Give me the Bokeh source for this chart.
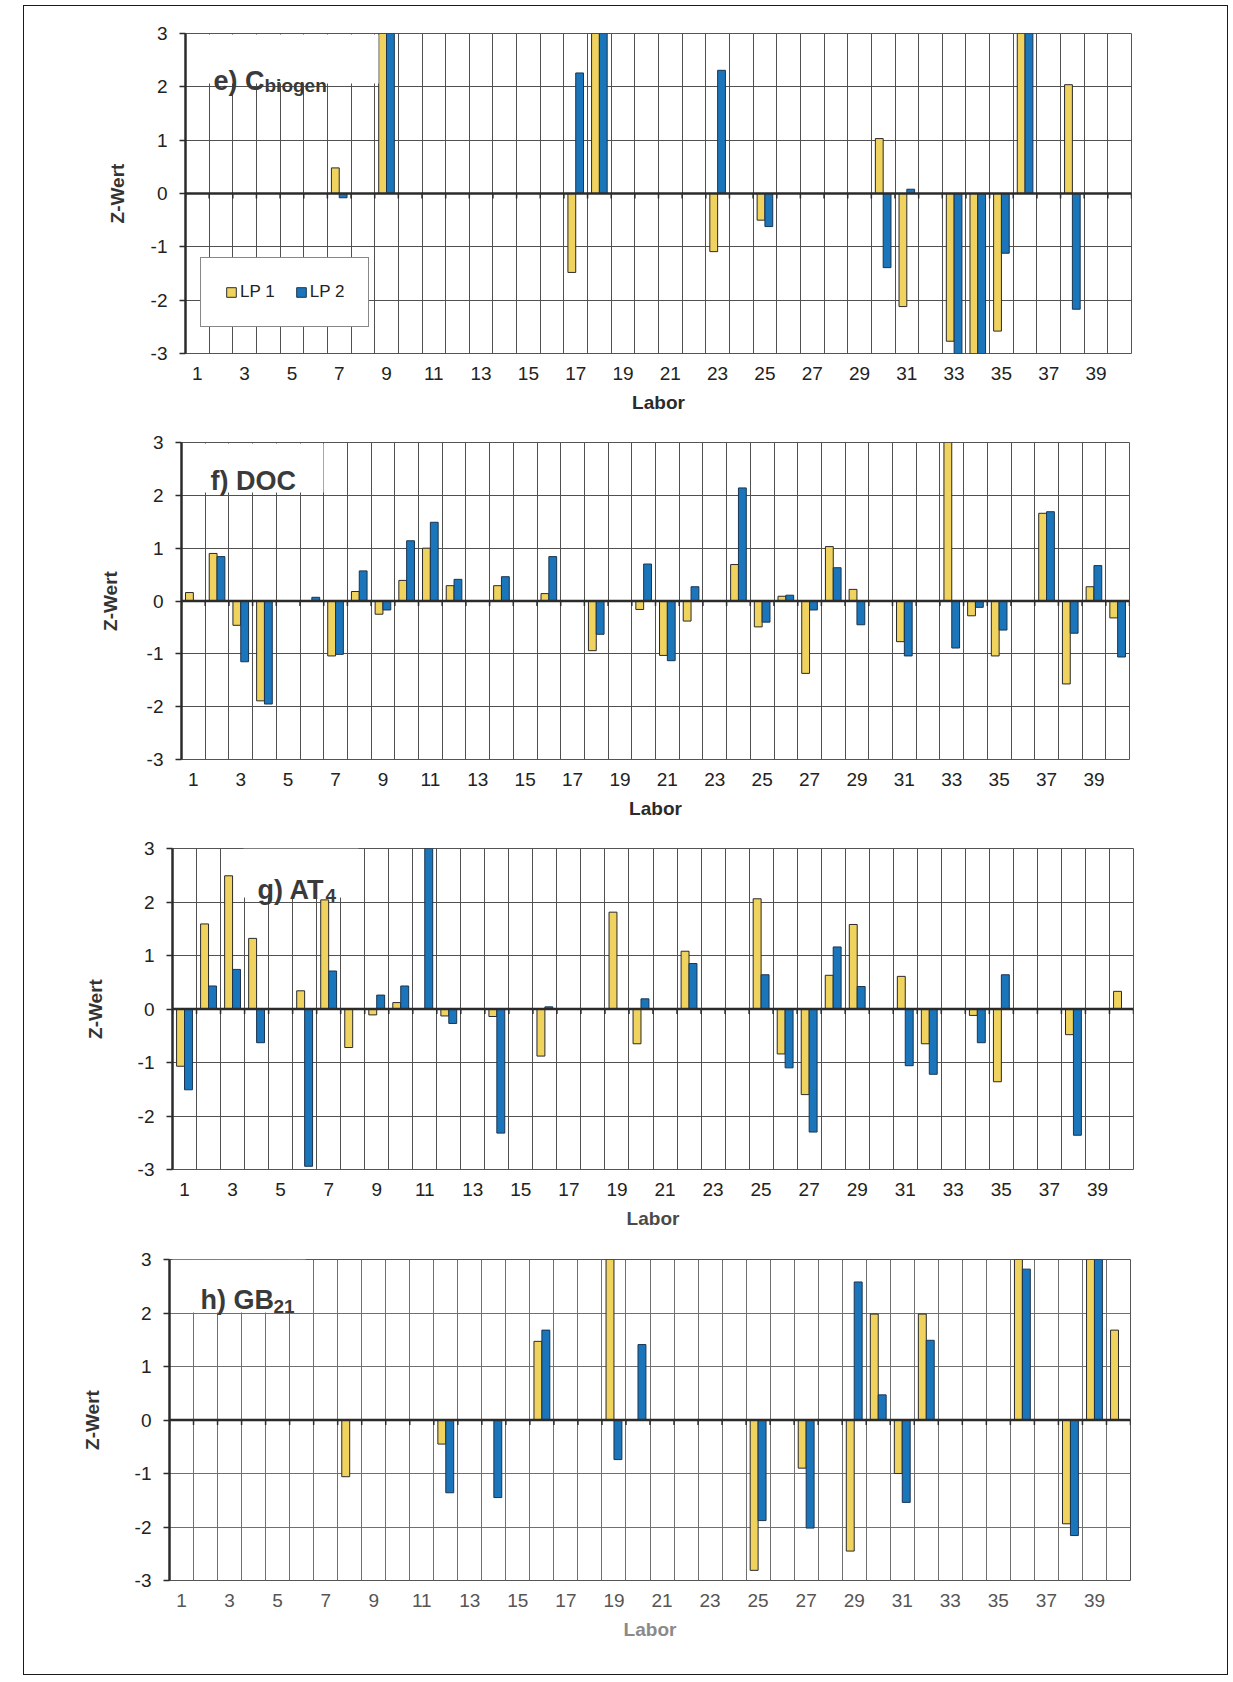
from bokeh.plotting import figure
from bokeh.models import (Range1d, FixedTicker, Span, Label, BoxAnnotation,
                          Legend, LegendItem, ColumnDataSource,
                          PrintfTickFormatter)
from bokeh.layouts import column, row
from bokeh.transform import dodge
from bokeh.embed import file_html
from bokeh.resources import INLINE

N = float("nan")

# ---------------- data ----------------
labs = list(range(1, 41))
x_tick_labels = list(range(1, 40, 2))
y_ticks = [-3, -2, -1, 0, 1, 2, 3]
series_names = ["LP 1", "LP 2"]

e_lp1 = [N, N, N, N, N, N, 0.48, N, 3.0, N,
         N, N, N, N, N, N, -1.48, 3.0, N, N,
         N, N, -1.09, N, -0.50, N, N, N, N, 1.03,
         -2.12, N, -2.77, -3.0, -2.58, 3.0, N, 2.04, N, N]
e_lp2 = [N, N, N, N, N, N, -0.08, N, 3.0, N,
         N, N, N, N, N, N, 2.26, 3.0, N, N,
         N, N, 2.31, N, -0.62, N, N, N, N, -1.39,
         0.08, N, -3.0, -3.0, -1.12, 3.0, N, -2.17, N, N]

f_lp1 = [0.16, 0.90, -0.46, -1.89, N, N, -1.04, 0.18, -0.25, 0.39,
         1.00, 0.29, N, 0.29, N, 0.14, N, -0.94, N, -0.16,
         -1.03, -0.38, N, 0.69, -0.49, 0.09, -1.37, 1.03, 0.22, N,
         -0.77, N, 3.0, -0.28, -1.04, N, 1.66, -1.57, 0.27, -0.32]
f_lp2 = [N, 0.84, -1.15, -1.95, N, 0.07, -1.01, 0.57, -0.17, 1.14,
         1.49, 0.41, N, 0.46, N, 0.84, N, -0.63, N, 0.70,
         -1.13, 0.27, N, 2.14, -0.40, 0.11, -0.17, 0.63, -0.45, N,
         -1.04, N, -0.89, -0.12, -0.55, N, 1.69, -0.61, 0.67, -1.06]

g_lp1 = [-1.07, 1.59, 2.49, 1.32, N, 0.34, 2.04, -0.72, -0.11, 0.12,
         N, -0.13, N, -0.14, N, -0.88, N, N, 1.81, -0.65,
         N, 1.08, N, N, 2.06, -0.84, -1.60, 0.63, 1.58, N,
         0.61, -0.65, N, -0.12, -1.36, N, N, -0.48, N, 0.33]
g_lp2 = [-1.51, 0.43, 0.74, -0.63, N, -2.94, 0.71, N, 0.26, 0.43,
         3.0, -0.27, N, -2.32, N, 0.04, N, N, N, 0.19,
         N, 0.85, N, N, 0.64, -1.10, -2.30, 1.16, 0.42, N,
         -1.06, -1.22, N, -0.63, 0.64, N, N, -2.36, N, N]

h_lp1 = [N, N, N, N, N, N, N, -1.06, N, N,
         N, -0.45, N, N, N, 1.47, N, N, 3.0, N,
         N, N, N, N, -2.81, N, -0.90, N, -2.45, 1.98,
         -1.00, 1.98, N, N, N, 3.0, N, -1.94, 3.0, 1.68]
h_lp2 = [N, N, N, N, N, N, N, N, N, N,
         N, -1.36, N, -1.45, N, 1.68, N, N, -0.74, 1.41,
         N, N, N, N, -1.88, N, -2.02, N, 2.58, 0.47,
         -1.54, 1.49, N, N, N, 2.82, N, -2.16, 3.0, N]

# ---------------- style ----------------
FONT = "Liberation Sans"
YELLOW = "#F0D25E"
BLUE = "#1B75BA"
GRID = "#505050"
AXIS = "#2b2b2b"
FIG_W = 1203

panels = [
    dict(lp1=e_lp1, lp2=e_lp2, title="e) C", sub="biogen",
         h=414, bl=161, br=96, bt=27, bb=67,
         tpos=(28, 47), sub_dx=51, sub_base=52, box=(5, 193, 1, 50),
         ystand=20, legend=True, xcol="#222222", labcol="#2b2b2b",
         gcol=GRID),
    dict(lp1=f_lp1, lp2=f_lp2, title="f) DOC", sub="",
         h=406, bl=157, br=98, bt=22, bb=67,
         tpos=(29, 38), sub_dx=0, sub_base=38, box=(2, 142, 1, 50),
         ystand=23, legend=False, xcol="#222222", labcol="#2b2b2b",
         gcol=GRID),
    dict(lp1=g_lp1, lp2=g_lp2, title="g) AT", sub="4",
         h=411, bl=148, br=94, bt=22, bb=68,
         tpos=(85, 41), sub_dx=68, sub_base=47, box=(71, 186, 0, 49),
         ystand=29, legend=False, xcol="#222222", labcol="#4a4a4a",
         gcol=GRID),
    dict(lp1=h_lp1, lp2=h_lp2, title="h) GB", sub="21",
         h=437, bl=145, br=97, bt=22, bb=94,
         tpos=(31, 40), sub_dx=73, sub_base=47, box=(3, 136, 0, 53),
         ystand=29, legend=False, xcol="#555555", labcol="#8a8a8a",
         gcol="#707070"),
]

bounds = [i + 0.5 for i in range(0, 41)]
figs = []
for pc in panels:
    W = FIG_W - pc["bl"] - pc["br"]
    H = pc["h"] - pc["bt"] - pc["bb"]

    def dx(px, W=W):
        return 0.5 + px * 40.0 / W

    def dy(py, H=H):
        return 3.0 - py * 6.0 / H

    p = figure(width=FIG_W, height=pc["h"], output_backend="svg",
               toolbar_location=None, x_range=Range1d(0.5, 40.5),
               y_range=Range1d(-3, 3), min_border_left=pc["bl"],
               min_border_right=pc["br"], min_border_top=pc["bt"],
               min_border_bottom=pc["bb"])
    p.background_fill_color = "white"
    p.border_fill_color = "white"
    p.outline_line_color = "#555555"
    p.outline_line_width = 1

    # grids
    p.xgrid.ticker = FixedTicker(ticks=bounds)
    p.ygrid.ticker = FixedTicker(ticks=y_ticks)
    for g in (p.xgrid, p.ygrid):
        g.grid_line_color = pc["gcol"]
        g.grid_line_width = 1

    # y axis
    p.yaxis.ticker = FixedTicker(ticks=y_ticks)
    p.yaxis.formatter = PrintfTickFormatter(format="%d")
    p.yaxis.axis_label = "Z-Wert"
    p.yaxis.axis_label_text_font = FONT
    p.yaxis.axis_label_text_font_size = "19px"
    p.yaxis.axis_label_text_font_style = "bold"
    p.yaxis.axis_label_text_color = "#333333"
    p.yaxis.axis_label_standoff = pc["ystand"]
    p.yaxis.major_label_text_font = FONT
    p.yaxis.major_label_text_font_size = "19px"
    p.yaxis.major_label_text_color = "#222222"
    p.yaxis.major_label_standoff = 12
    p.yaxis.axis_line_width = 2.5
    p.yaxis.axis_line_color = AXIS
    p.yaxis.major_tick_line_color = AXIS
    p.yaxis.major_tick_line_width = 1.5
    p.yaxis.major_tick_out = 6
    p.yaxis.major_tick_in = 0
    p.yaxis.minor_tick_line_color = None

    # x axis (labels at bottom)
    p.xaxis.ticker = FixedTicker(ticks=x_tick_labels)
    p.xaxis.axis_label = "Labor"
    p.xaxis.axis_label_text_font = FONT
    p.xaxis.axis_label_text_font_size = "19px"
    p.xaxis.axis_label_text_font_style = "bold"
    p.xaxis.axis_label_text_color = pc["labcol"]
    p.xaxis.axis_label_standoff = 9
    p.xaxis.major_label_text_font = FONT
    p.xaxis.major_label_text_font_size = "19px"
    p.xaxis.major_label_text_color = pc["xcol"]
    p.xaxis.major_label_standoff = 13
    p.xaxis.axis_line_color = None
    p.xaxis.major_tick_line_color = None
    p.xaxis.major_tick_out = 0
    p.xaxis.major_tick_in = 0
    p.xaxis.minor_tick_line_color = None

    # title background box
    b = pc["box"]
    p.add_layout(BoxAnnotation(left=dx(b[0]), right=dx(b[1]), top=dy(b[2]),
                               bottom=dy(b[3]), fill_color="white",
                               fill_alpha=1.0, line_color=None))

    src = ColumnDataSource(dict(lab=labs, lp1=pc["lp1"], lp2=pc["lp2"]))
    r1 = p.vbar(x=dodge("lab", -0.165, range=p.x_range), top="lp1", bottom=0,
                width=0.33, source=src, fill_color=YELLOW,
                line_color="#2a2a2a", line_width=1)
    r2 = p.vbar(x=dodge("lab", 0.165, range=p.x_range), top="lp2", bottom=0,
                width=0.33, source=src, fill_color=BLUE,
                line_color="#1b3550", line_width=1)

    # category axis at zero with tick marks between categories
    p.add_layout(Span(location=0, dimension="width", line_color=AXIS,
                      line_width=2.5))
    tick_len = -5 * 6.0 / H
    p.segment(x0=bounds, y0=[0] * len(bounds), x1=bounds,
              y1=[tick_len] * len(bounds), line_color=AXIS, line_width=1.5)

    # title with subscript
    tx, ty = pc["tpos"]
    p.add_layout(Label(x=dx(tx), y=dy(ty), text=pc["title"],
                       text_font=FONT, text_font_size="27px",
                       text_font_style="bold", text_color="#3a3a3a",
                       text_baseline="alphabetic", text_align="left"))
    if pc["sub"]:
        p.add_layout(Label(x=dx(tx + pc["sub_dx"]), y=dy(pc["sub_base"]),
                           text=pc["sub"], text_font=FONT,
                           text_font_size="19px", text_font_style="bold",
                           text_color="#3a3a3a", text_baseline="alphabetic",
                           text_align="left"))

    if pc["legend"]:
        leg = Legend(items=[LegendItem(label=series_names[0], renderers=[r1]),
                            LegendItem(label=series_names[1], renderers=[r2])],
                     location=(15, 26), orientation="horizontal")
        leg.label_text_font = FONT
        leg.label_text_font_size = "17px"
        leg.label_text_color = "#222222"
        leg.glyph_width = 12
        leg.glyph_height = 12
        leg.label_standoff = 3
        leg.spacing = 20
        leg.padding = 24
        leg.margin = 0
        leg.border_line_color = "#111111"
        leg.border_line_width = 1
        leg.background_fill_color = "white"
        leg.background_fill_alpha = 1.0
        p.add_layout(leg)

    figs.append(p)

# each figure in its own row so that the frames are not force-aligned
layout = column(*[row(f) for f in figs], spacing=0, margin=(5, 0, 0, 23),
                styles={"border": "1.5px solid #1a1a1a"})

open("out.html", "w").write(file_html(layout, INLINE))
